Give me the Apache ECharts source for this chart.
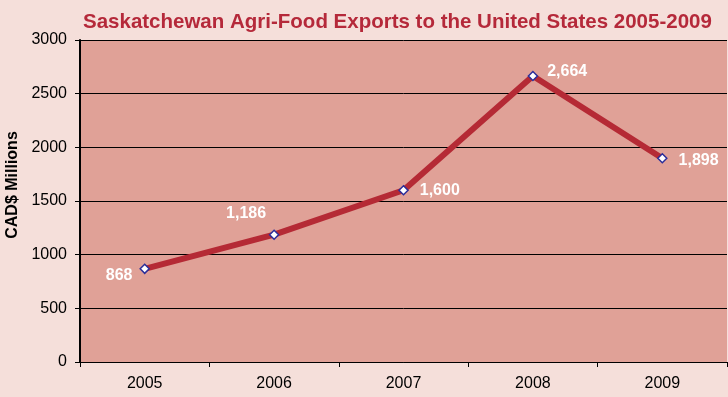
<!DOCTYPE html>
<html><head><meta charset="utf-8">
<script src="https://cdn.jsdelivr.net/npm/echarts@6/dist/echarts.min.js"></script>
<style>html,body{margin:0;padding:0;background:#F5DFDA;}#c{width:728px;height:397px;}</style>
</head><body><div id="c"></div>
<script>
const categories = ['2005','2006','2007','2008','2009'];
const values = [868, 1186, 1600, 2664, 1898];
const labelPositions = ['left','top','right','right','right'];
const yTicks = [0,500,1000,1500,2000,2500,3000];

const chart = echarts.init(document.getElementById('c'));
const labelOffsets = [[4,7],[-28,3],[0,0],[-2,-4],[0,2]];
chart.setOption({
  animation:false,
  backgroundColor:'#F5DFDA',
  title:{text:'Saskatchewan Agri-Food Exports to the United States 2005-2009',left:83,top:12,padding:0,
    textStyle:{fontFamily:'Liberation Sans, Arial',fontWeight:'bold',fontSize:20.5,color:'#B5293A'}},
  grid:{left:80,right:1,top:40,bottom:35,show:true,backgroundColor:'#E0A197',borderWidth:0,
    outerBoundsMode:'none',containLabel:false},
  xAxis:{type:'category',data:categories,boundaryGap:true,
    axisLine:{lineStyle:{color:'#000',width:1}},
    axisTick:{show:true,length:5,lineStyle:{color:'#000'}},
    axisLabel:{color:'#000',fontSize:16,fontFamily:'Liberation Sans, Arial',margin:14}},
  yAxis:{type:'value',min:yTicks[0],max:yTicks[yTicks.length-1],interval:500,
    name:'CAD$ Millions',nameLocation:'middle',nameGap:47,nameRotate:90,
    nameTextStyle:{fontFamily:'Liberation Sans, Arial',fontWeight:'bold',fontSize:16,color:'#000',padding:[0,0,0,32]},
    axisLine:{show:true,lineStyle:{color:'#000',width:2}},
    axisTick:{show:true,length:5,lineStyle:{color:'#000'}},
    splitLine:{lineStyle:{color:'#000',width:1}},
    axisLabel:{color:'#000',fontSize:16,fontFamily:'Liberation Sans, Arial',margin:13,formatter:v=>String(v)}},
  series:[{type:'line',
    data:values.map((v,i)=>({value:v,label:{position:labelPositions[i],offset:labelOffsets[i]}})),
    lineStyle:{color:'#B52A35',width:6},
    symbol:'diamond',symbolSize:9,
    itemStyle:{color:'#FFFFFF',borderColor:'#2B2E9A',borderWidth:1.5},
    label:{show:true,color:'#FFFFFF',fontWeight:'bold',fontSize:16,fontFamily:'Liberation Sans, Arial',
      distance:11,
      formatter:p=>p.value.toLocaleString('en-US')}
  }]
});
</script></body></html>
